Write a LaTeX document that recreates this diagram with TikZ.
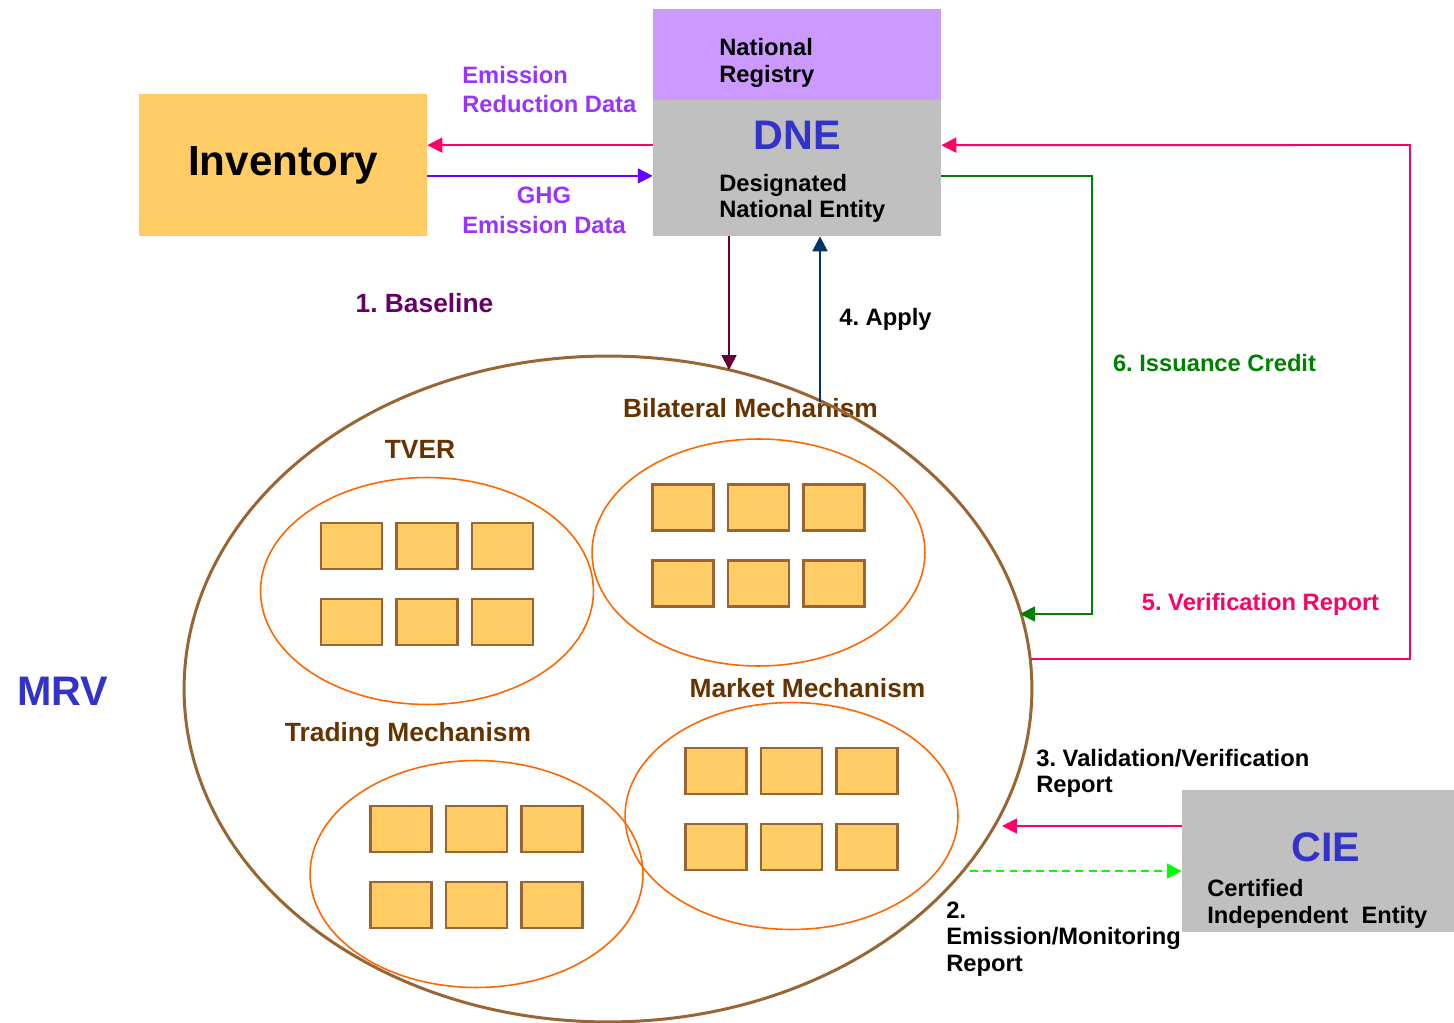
\documentclass[tikz,border=0pt]{standalone}
\usepackage{fontspec}
\setmainfont{Liberation Sans}
\usetikzlibrary{arrows.meta,shapes.geometric,calc}
\frenchspacing
\definecolor{gold}{HTML}{FFCC66}
\definecolor{tan}{HTML}{996633}
\definecolor{orng}{HTML}{FF6600}
\definecolor{lilac}{HTML}{CC99FF}
\definecolor{grey}{HTML}{C0C0C0}
\definecolor{blu}{HTML}{3333CC}
\definecolor{vio}{HTML}{9933FF}
\definecolor{indg}{HTML}{6600FF}
\definecolor{pnk}{HTML}{FF0066}
\definecolor{maroon}{HTML}{660033}
\definecolor{plum}{HTML}{660066}
\definecolor{navy}{HTML}{003366}
\definecolor{grn}{HTML}{008000}
\definecolor{lime}{HTML}{00FF00}
\definecolor{brn}{HTML}{663300}
\def\lbl{\fontsize{13.5}{15}\selectfont\bfseries}
\def\lbltall{\fontsize{13.5}{17}\selectfont\bfseries}
\def\mech{\fontsize{15}{17}\selectfont\bfseries}
\def\hdg{\fontsize{23.5}{26}\selectfont\bfseries}

\begin{document}
\begin{tikzpicture}[x=0.02cm, y=-0.02cm,
    link/.style={line width=1.1pt, -{Triangle[length=8.5pt,width=8.5pt]}},
    unit/.style={draw=tan, fill=gold, line width=1.2pt, minimum width=1.22cm, minimum height=0.92cm, inner sep=0pt},
    ring/.style={ellipse, draw=orng, line width=0.9pt, minimum width=6.66cm, minimum height=4.54cm, inner sep=0pt},
    panel/.style={inner sep=0pt, minimum width=5.76cm},
    txt/.style={inner sep=0pt, font=\lbl}]
  \useasboundingbox (0,0) rectangle (1454,1023);

  % boxes
  \node[panel, fill=gold, minimum height=2.84cm, font=\fontsize{24}{26}\selectfont\bfseries] (inv) at (283,165) {Inventory};
  \node[panel, fill=lilac, minimum height=1.82cm] (reg) at (797,54.5) {};
  \node[panel, fill=grey, minimum height=2.72cm] (dne) at (797,168) {};
  \node[panel, fill=grey, minimum width=5.44cm, minimum height=2.84cm] (cie) at (1318,861) {};

  \node[txt, anchor=west, align=left] (regtxt) at (719,63) {National\\Registry};
  \node[txt, anchor=base, font=\hdg, text=blu] (dnetxt) at (797,150) {DNE};
  \node[txt, anchor=west, align=left] (dnesub) at (719,198.5) {Designated\\National Entity};
  \node[txt, anchor=base, font=\hdg, text=blu] (cietxt) at (1326,861) {CIE};
  \node[txt, anchor=west, align=left] (ciesub) at (1207,904) {Certified\\Independent\ \ Entity};
  \node[txt, anchor=base, font=\hdg, text=blu] (mrvtxt) at (63,705) {MRV};

  % data labels
  \node[txt, anchor=west, align=left, font=\lbltall, text=vio] (erd) at (462,89.5) {Emission\\Reduction Data};
  \node[txt, align=center, font=\lbltall, text=vio] (ghg) at (544,210) {GHG\\Emission Data};

  % mechanisms
  \node[txt, anchor=base, font=\mech, text=brn] (tverlbl) at (420,459) {TVER};
  \node[txt, anchor=base, font=\mech, text=brn] (billbl) at (750.5,418) {Bilateral Mechanism};
  \node[txt, anchor=base, font=\mech, text=brn] (mktlbl) at (807.5,697) {Market Mechanism};
  \node[txt, anchor=base, font=\mech, text=brn] (trdlbl) at (408,741.5) {Trading Mechanism};

  \node[ellipse, draw=tan, line width=1.7pt, minimum width=16.96cm, minimum height=13.32cm, inner sep=0pt] (mrv) at (608,689) {};
  \foreach \e/\x/\y in {tver/427/591, bil/758.5/552.5, mkt/791.5/816, trd/476.5/874}{
    \node[ring] (\e) at (\x,\y) {};
    \foreach \i in {1,2,3}
      \foreach \j in {1,2}
        \node[unit] (\e\i\j) at ($(\e)+({(\i-2)*75.5},{(\j-1)*76-45})$) {};
  }

  % steps
  \node[txt, anchor=base, font=\mech, text=plum] (s1) at (424.5,313) {1. Baseline};
  \node[txt, anchor=west, align=left] (s2) at (946,939) {2.\\Emission/Monitoring\\Report};
  \node[txt, anchor=west, align=left] (s3) at (1036,773.5) {3. Validation/Verification\\Report};
  \node[txt, anchor=base] (s4) at (885.5,326) {4. Apply};
  \node[txt, anchor=base, text=pnk] (s5) at (1260.5,611) {5. Verification Report};
  \node[txt, anchor=base, text=grn] (s6) at (1214.5,371.5) {6. Issuance Credit};

  % connectors
  \coordinate (bl) at (729,370);
  \coordinate (ap) at (820,402);
  \coordinate (ic) at (1092,614);
  \coordinate (ict) at (1020,614);
  \coordinate (vr) at (1031,659);
  \coordinate (vx) at (1410,145);
  \coordinate (vv) at (1002,826);
  \coordinate (em) at (970,871);
  \draw[link, pnk] ([yshift=13pt]dne.west) -- ([yshift=13pt]dne.west -| inv.east);
  \draw[link, indg] ([yshift=-4.5pt]dne.west -| inv.east) -- ([yshift=-4.5pt]dne.west);
  \draw[link, maroon] (dne.south -| bl) -- (bl);
  \draw[link, navy] (ap) -- (dne.south -| ap);
  \draw[link, grn] ([yshift=-4.5pt]dne.east) -| (ic) -- (ict);
  \draw[link, pnk] (vr) -| (vx) -- ([yshift=13pt]dne.east);
  \draw[link, pnk] (cie.west |- vv) -- (vv);
  \draw[link, lime, dash pattern=on 4.5pt off 3pt] (em) -- (em -| cie.west);
\end{tikzpicture}
\end{document}
